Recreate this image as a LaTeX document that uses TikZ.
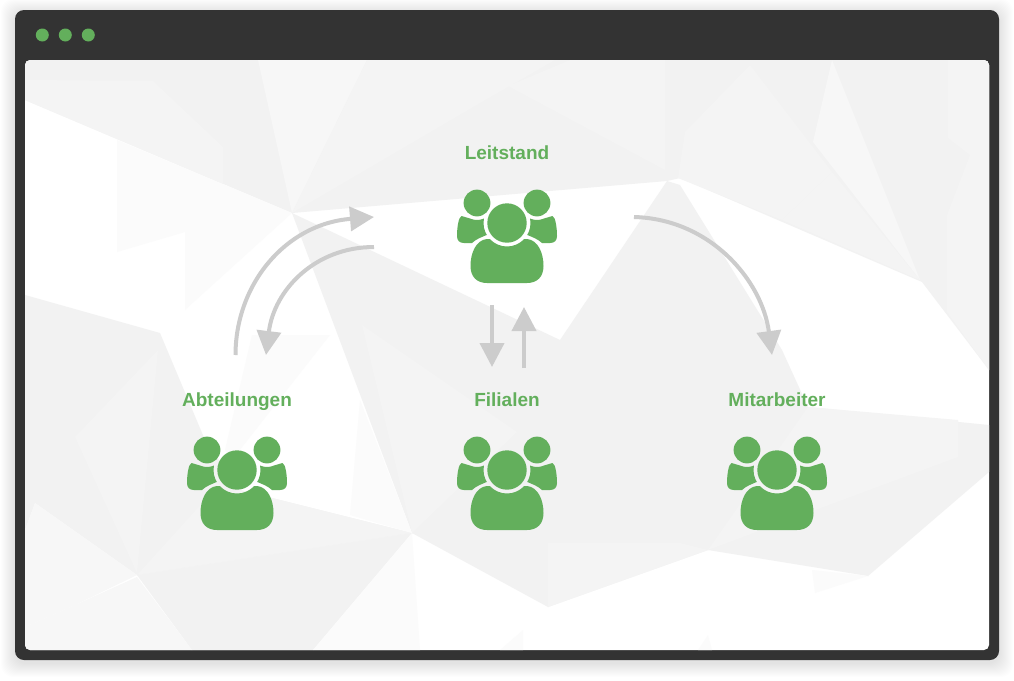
\documentclass[tikz,border=0pt]{standalone}
\usepackage{fontspec}
\setmainfont{Liberation Sans}
\usetikzlibrary{arrows.meta}
\definecolor{framegray}{HTML}{333333}
\definecolor{leaf}{HTML}{63AF5C}
\definecolor{arrowgray}{HTML}{CCCCCC}
\definecolor{facetdark}{HTML}{F2F2F2}
\definecolor{facetmid}{HTML}{F4F4F4}
\definecolor{facetlight}{HTML}{F7F7F7}
\definecolor{facetpale}{HTML}{FBFBFB}
\tikzset{
  dark/.style={fill=facetdark},
  mid/.style={fill=facetmid},
  light/.style={fill=facetlight},
  pale/.style={fill=facetpale},
  title/.style={text=leaf,font=\fontsize{19}{19}\bfseries,anchor=base},
  flow/.style={draw=arrowgray,line width=4pt,-{Triangle[length=24pt,width=24pt]}},
  people/.pic={
    % back bodies, cut by the rings round the heads
    \begin{scope}[even odd rule]
      \clip (-70,-50) rectangle (70,80) (0,0) circle (23.5);
      \clip (-70,-50) rectangle (70,80) (-30,-20) circle (17);
      \clip (-70,-50) rectangle (70,80) (30,-20) circle (17);
      \fill[leaf] (-45.5,-7) .. controls (-48.5,-6) and (-50,5) .. (-50,13)
        .. controls (-50,17.5) and (-47.5,20) .. (-43,20) -- (-35,20)
        .. controls (-31,16) and (-25,14) .. (-18,11) -- (-18,-12) -- (-37,-4.5) -- cycle;
      \fill[leaf] (45.5,-7) .. controls (48.5,-6) and (50,5) .. (50,13)
        .. controls (50,17.5) and (47.5,20) .. (43,20) -- (35,20)
        .. controls (31,16) and (25,14) .. (18,11) -- (18,-12) -- (37,-4.5) -- cycle;
    \end{scope}
    % front body
    \begin{scope}[even odd rule]
      \clip (-70,-50) rectangle (70,80) (0,0) circle (23.5);
      \fill[leaf] (-36.5,43) .. controls (-36.5,30) and (-31,17) .. (-20,16) -- (20,16)
        .. controls (31,17) and (36.5,30) .. (36.5,43)
        .. controls (36.5,54) and (30,60) .. (20,60) -- (-20,60)
        .. controls (-30,60) and (-36.5,54) .. (-36.5,43) -- cycle;
    \end{scope}
    % heads
    \fill[leaf] (0,0) circle (19.7);
    \fill[leaf] (-30,-20) circle (13.4);
    \fill[leaf] (30,-20) circle (13.4);
  }
}
\begin{document}
\begin{tikzpicture}[x=1pt,y=-1pt]
  \useasboundingbox (0,0) rectangle (1014,680);
  % shadow
  \foreach \s in {1,2,...,14}
    \fill[black,opacity=0.009,rounded corners=12] (15-\s,10-\s+3) rectangle (999+\s,660+\s+3);
  % window
  \fill[framegray,rounded corners=9] (15,10) rectangle (999,660);
  \foreach \dotx/\dotname in {42.3/dotA,65.3/dotB,88.3/dotC}
    \node[circle,fill=leaf,minimum size=13pt,inner sep=0pt] (\dotname) at (\dotx,35) {};
  \fill[white,rounded corners=5] (25,60) rectangle (989,650);
  % facets
  \begin{scope}
    \clip[rounded corners=5] (25,60) rectangle (989,650);
    % upper band
    \fill[dark] (25,60) -- (989,60) -- (989,370) -- (922,282) -- (680,178) -- (667,181) -- (292,213) -- (25,100) -- cycle;
    \fill[mid] (25,80) -- (153,81) -- (223,147) -- (223,184) -- (25,100) -- cycle;
    \fill[light] (258,60) -- (367,60) -- (292,213) -- cycle;
    \fill[mid] (367,60) -- (555,60) -- (480,103) -- (292,213) -- cycle;
    \fill[mid] (508,86) -- (570,60) -- (665,60) -- (665,170) -- cycle;
    \fill[mid] (750,65) -- (685,132) -- (678,178) -- (782,220) -- (832,172) -- cycle;
    \fill[light] (832,60) -- (813,142) -- (920,280) -- cycle;
    \fill[mid] (832,172) -- (782,220) -- (920,280) -- cycle;
    \fill[mid] (948,60) -- (989,60) -- (989,370) -- (947,312) -- (947,215) -- (970,155) -- (948,138) -- cycle;
    % below the apex
    \fill[pale] (117,140) -- (292,213) -- (185,310) -- (185,232) -- (117,252) -- cycle;
    \fill[pale] (252,335) -- (330,335) -- (232,460) -- (225,450) -- cycle;
    % middle
    \fill[dark] (292,213) -- (560,340) -- (667,181) -- (680,185) -- (782,350) -- (808,407) -- (989,425) -- (989,472) -- (868,576) -- (708,550) -- (548,607) -- (412,533) -- cycle;
    \fill[mid] (362,325) -- (517,432) -- (412,533) -- cycle;
    \fill[mid] (808,407) -- (958,420) -- (958,457) -- (708,550) -- cycle;
    \fill[mid] (548,543) -- (680,543) -- (708,550) -- (548,607) -- cycle;
    \fill[pale] (812,570) -- (868,576) -- (815,593) -- cycle;
    % left and bottom
    \fill[dark] (25,295) -- (160,333) -- (205,440) -- (240,490) -- (412,533) -- (137,575) -- (35,503) -- (25,530) -- cycle;
    \fill[mid] (75,437) -- (158,350) -- (137,573) -- cycle;
    \fill[mid] (137,575) -- (205,500) -- (240,490) -- (412,533) -- cycle;
    \fill[dark] (137,575) -- (412,533) -- (313,650) -- (192,650) -- cycle;
    \fill[light] (25,530) -- (35,503) -- (137,575) -- (75,605) -- (25,627) -- cycle;
    \fill[light] (25,627) -- (75,605) -- (137,577) -- (192,650) -- (25,650) -- cycle;
    \fill[pale] (412,533) -- (420,650) -- (313,650) -- cycle;
    \fill[pale] (360,400) -- (412,533) -- (350,515) -- cycle;
    \fill[pale] (523,630) -- (500,650) -- (523,650) -- cycle;
    \fill[pale] (708,635) -- (698,650) -- (712,650) -- cycle;
  \end{scope}
  % labels
  \node[title] (leitstand) at (507,159) {Leitstand};
  \node[title] (abteilungen) at (237,406) {Abteilungen};
  \node[title] (filialen) at (507,406) {Filialen};
  \node[title] (mitarbeiter) at (777,406) {Mitarbeiter};
  % groups
  \pic (leitGroup) at (507,223) {people};
  \pic (abtGroup) at (237,470) {people};
  \pic (filGroup) at (507,470) {people};
  \pic (mitGroup) at (777,470) {people};
  % connector ends
  \coordinate (abtOut) at (235.5,355);
  \coordinate (leitIn) at (374,217);
  \coordinate (leitOut) at (374,247);
  \coordinate (abtIn) at (266,355);
  \coordinate (mitStart) at (634,217);
  \coordinate (mitIn) at (772,355);
  \coordinate (filDownA) at (492,305);
  \coordinate (filDownB) at (492,367);
  \coordinate (filUpA) at (524,368);
  \coordinate (filUpB) at (524,307);
  % arrows
  \draw[flow] (abtOut) .. controls (235.5,285) and (285,224) .. (leitIn);
  \draw[flow] (leitOut) .. controls (315,247) and (274,290) .. (abtIn);
  \draw[flow] (mitStart) .. controls (710,219) and (762,280) .. (mitIn);
  \draw[flow] (filDownA) -- (filDownB);
  \draw[flow] (filUpA) -- (filUpB);
\end{tikzpicture}
\end{document}
